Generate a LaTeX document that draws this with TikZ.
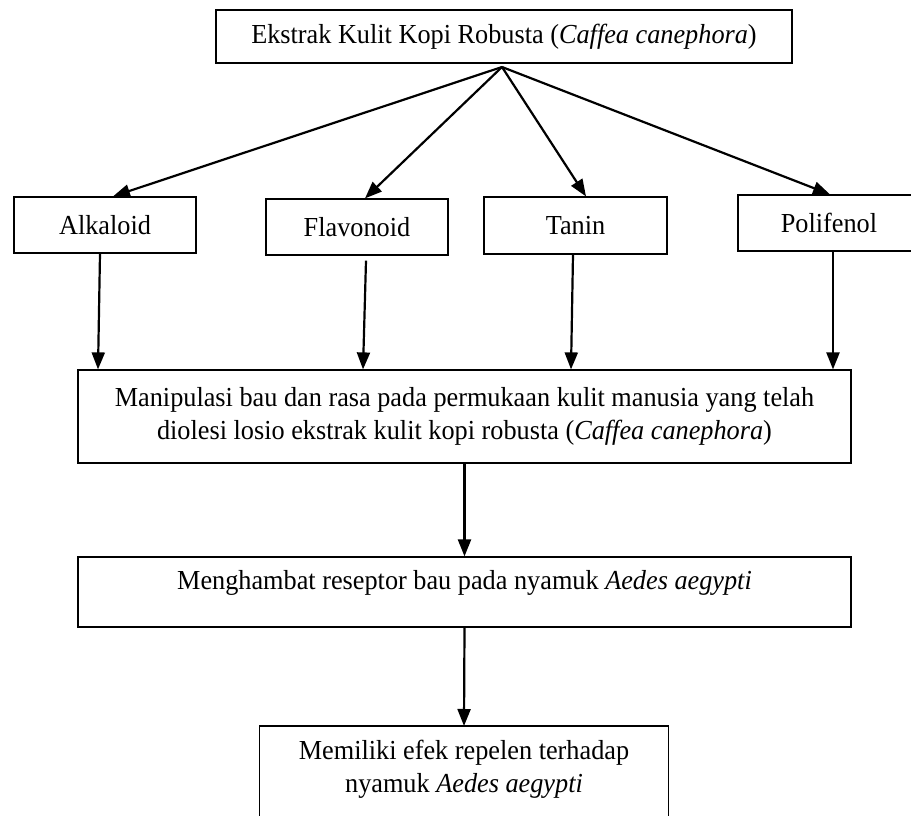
\documentclass[tikz,border=0pt]{standalone}
\usepackage{fontspec}
\setmainfont[FakeStretch=0.955]{Liberation Serif}
\usetikzlibrary{arrows.meta}
\tikzset{
  txt/.style={inner sep=0pt, align=center, font=\fontsize{27.5}{33}\selectfont},
  box/.style={txt, draw, line width=1.2pt},
  arr/.style={line width=2.2pt, line join=round, -{Triangle[length=17pt,width=13pt]}},
}
\begin{document}
\begin{tikzpicture}[x=1pt,y=-1pt]
\useasboundingbox (0,0) rectangle (911,816);
\clip (0,0) rectangle (911,816);
\node[box, minimum width=576, minimum height=53] (top) at (504,36.5) {Ekstrak Kulit Kopi Robusta (\textit{Caffea canephora})};
\node[box, minimum width=182, minimum height=56] (alk) at (105,225) {Alkaloid};
\node[box, minimum width=182, minimum height=56] (fla) at (357,227) {Flavonoid};
\node[box, minimum width=183, minimum height=57] (tan) at (575.5,225.5) {Tanin};
\node[box, minimum width=182, minimum height=56] (pol) at (829,223) {Polifenol};
\node[box, minimum width=773, minimum height=93] (man) at (464.5,416.5) {Manipulasi bau dan rasa pada permukaan kulit manusia yang telah\\ diolesi losio ekstrak kulit kopi robusta (\textit{Caffea canephora})};
\node[box, minimum width=773, minimum height=70, text height=19pt, text depth=25pt] (meng) at (464.5,592) {Menghambat reseptor bau pada nyamuk \textit{Aedes aegypti}};
\node[txt, anchor=north, minimum width=408, inner ysep=14pt] (fin) at (464,726) {Memiliki efek repelen terhadap\\ nyamuk \textit{Aedes aegypti}};
\draw[line width=1.2pt] (fin.north west) rectangle ([yshift=-40pt]fin.south east);
\coordinate (src) at (502,67);
\draw[arr] (src) -- ([xshift=8pt]alk.north);
\draw[arr] (src) -- ([xshift=8pt]fla.north);
\draw[arr] (src) -- ([xshift=10.5pt]tan.north);
\draw[arr] (src) -- ([xshift=1pt]pol.north);
\draw[arr] ([xshift=-5pt]alk.south) -- ([xshift=-366.5pt]man.north);
\draw[arr] ([xshift=9pt,yshift=-5pt]fla.south) -- ([xshift=-101.5pt]man.north);
\draw[arr] ([xshift=-2.5pt]tan.south) -- ([xshift=106.5pt]man.north);
\draw[arr] ([xshift=4pt]pol.south) -- ([xshift=368.5pt]man.north);
\draw[arr] (man.south) -- (meng.north);
\draw[arr] (meng.south) -- (fin.north);
\end{tikzpicture}
\end{document}
